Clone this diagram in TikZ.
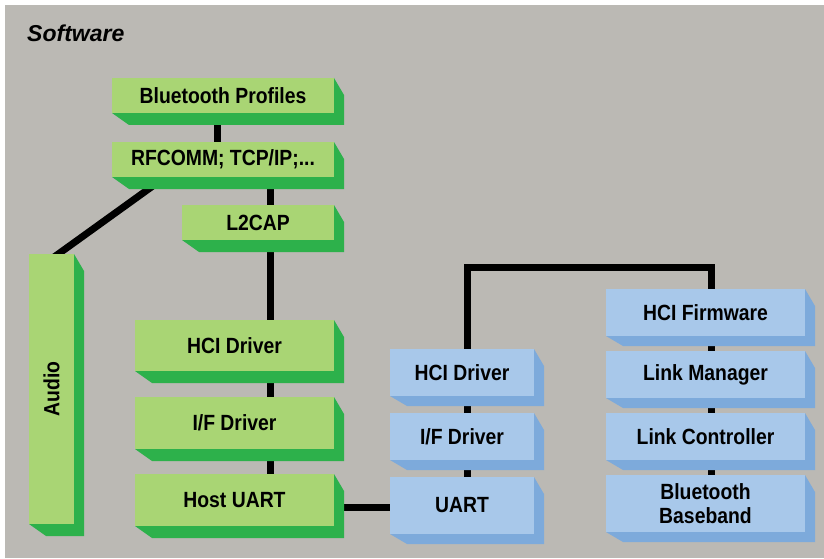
\documentclass[tikz,border=0pt]{standalone}
\usepackage{fontspec}
\usepackage{graphicx}
\newfontfamily\lab{Liberation Sans}[FakeStretch=0.88]
\newfontfamily\ttl{Liberation Sans}
\definecolor{bggray}{HTML}{BBB9B4}
\definecolor{greenfront}{HTML}{A9D574}
\definecolor{greendark}{HTML}{2DB14B}
\definecolor{bluefront}{HTML}{A8C8EA}
\definecolor{bluedark}{HTML}{7DAADB}
\pgfdeclarelayer{back}
\pgfdeclarelayer{bg}
\pgfdeclarelayer{shd}
\pgfsetlayers{back,bg,shd,main}
\def\extgreen{12}
\def\extblue{10}
\tikzset{
  boxbase/.style={inner sep=0pt, outer sep=0pt, anchor=north west, align=center,
    font=\lab\bfseries\fontsize{22}{22}\selectfont, text=black},
  greenbox/.style={boxbase, fill=greenfront},
  bluebox/.style={boxbase, fill=bluefront},
  conn/.style={line width=7pt, black, line join=miter, line cap=butt},
}
\newcommand\bx[7]{%
  \node[#6box, minimum width={(#4-#2)*1pt}, minimum height={(#5-#3)*1pt}] (#1) at (#2,#3) {#7};
  \begin{pgfonlayer}{shd}
    \fill[#6dark] (#1.south west) -- ([shift={(17,\csname ext#6\endcsname)}]#1.south west)
      -- ([shift={(10,\csname ext#6\endcsname)}]#1.south east)
      -- ([shift={(10,17)}]#1.north east) -- (#1.north east) -- cycle;
  \end{pgfonlayer}}
\begin{document}
\begin{tikzpicture}[x=1pt,y=-1pt]
\useasboundingbox (0,0) rectangle (824,559);
\begin{pgfonlayer}{back}
\fill[white] (0,0) rectangle (824,559);
\fill[bggray] (5,5) rectangle (824,558);
\end{pgfonlayer}
\node[anchor=base west, inner sep=0pt, font=\ttl\bfseries\itshape\fontsize{23}{24}\selectfont] (sw) at (27,42) {Software};

% green stack
\bx{prof}{112}{78}{334}{113}{green}{Bluetooth Profiles}
\bx{rfc}{112}{142}{334}{177}{green}{RFCOMM; TCP/IP;...}
\bx{ltc}{182}{205}{334}{240}{green}{L2CAP}
\bx{audio}{29}{254}{74}{524}{green}{\rotatebox{90}{Audio}}
\bx{ghci}{135}{320}{334}{371}{green}{HCI Driver}
\bx{gif}{135}{397}{334}{449}{green}{I/F Driver}
\bx{hu}{135}{474}{334}{526}{green}{Host UART}

% blue stacks
\bx{bhci}{390}{349}{534}{396}{blue}{HCI Driver}
\bx{bif}{390}{413}{534}{460}{blue}{I/F Driver}
\bx{uart}{390}{477}{534}{534}{blue}{UART}
\bx{hfw}{606}{289}{805}{336}{blue}{HCI Firmware}
\bx{lm}{606}{351}{805}{398}{blue}{Link Manager}
\bx{lc}{606}{413}{805}{460}{blue}{Link Controller}
\bx{bb}{606}{475}{805}{532}{blue}{Bluetooth\\[2pt]Baseband}

\coordinate (px) at (217,0);
\coordinate (gx) at (270,0);
\coordinate (bx) at (467,0);
\coordinate (rx) at (711,0);
\coordinate (hy) at (0,507);
\coordinate (topy) at (0,267);

\begin{pgfonlayer}{bg}
\draw[conn] (prof.south -| px) -- (rfc.north -| px);
\draw[conn] (rfc.south -| gx) -- (ltc.north -| gx);
\draw[conn] (ltc.south -| gx) -- (ghci.north -| gx);
\draw[conn] (ghci.south -| gx) -- (gif.north -| gx);
\draw[conn] (gif.south -| gx) -- (hu.north -| gx);
\draw[conn] ([shift={(63,-7)}]rfc.south west) -- ([shift={(14,11)}]audio.north west);
\draw[conn] (hu.east |- hy) -- (uart.west |- hy);
\draw[conn] (bhci.north -| bx) -- (bx |- topy) -- (rx |- topy) -- (hfw.north -| rx);
\draw[conn] (bhci.south -| bx) -- (bif.north -| bx);
\draw[conn] (bif.south -| bx) -- (uart.north -| bx);
\draw[conn] (hfw.south -| rx) -- (lm.north -| rx);
\draw[conn] (lm.south -| rx) -- (lc.north -| rx);
\draw[conn] (lc.south -| rx) -- (bb.north -| rx);
\end{pgfonlayer}
\end{tikzpicture}
\end{document}
